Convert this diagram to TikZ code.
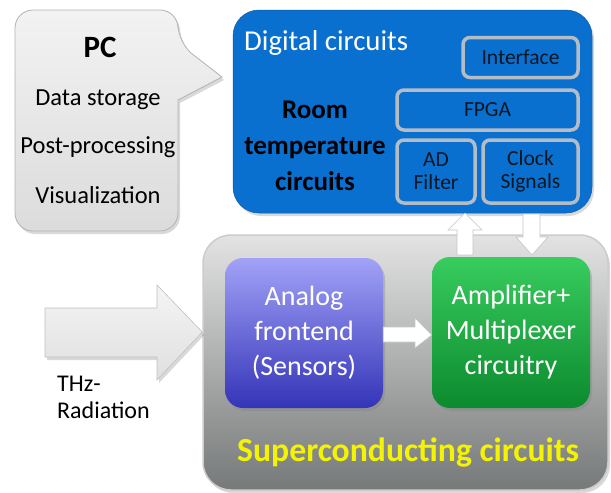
\documentclass[tikz,border=0pt]{standalone}
\usepackage{fontspec}
\setmainfont{Carlito}
\usetikzlibrary{shadows}
\definecolor{bluebox}{HTML}{0A70D0}
\definecolor{innerline}{HTML}{B4BCC6}
\definecolor{innertext}{HTML}{0C1620}
\definecolor{yel}{HTML}{F4F400}
\definecolor{anatop}{HTML}{A2A2F8}
\definecolor{anabot}{HTML}{3434B8}
\definecolor{amptop}{HTML}{38CC5E}
\definecolor{ampbot}{HTML}{0C8A2E}
\tikzset{
  txt/.style={inner sep=0pt, align=center},
  bigbox/.style={rounded corners=26pt, inner sep=0pt},
  innerbox/.style={draw=innerline, line width=3.5pt, fill=bluebox, rounded corners=7pt, inner sep=0pt, text=innertext, font=\fontsize{21.5}{23}\selectfont, align=center},
  colbox/.style={rounded corners=18pt, inner sep=0pt, text=white, align=center, font=\fontsize{28}{35}\selectfont, drop shadow={opacity=0.35, shadow xshift=2pt, shadow yshift=-3pt}},
  whitearrow/.style={fill=white, draw=gray!45, line width=0.6pt, line join=miter},
  shadowed/.style={drop shadow={opacity=0.3, shadow xshift=2pt, shadow yshift=-3pt}},
}
\begin{document}
\begin{tikzpicture}[x=1pt, y=-1pt]
\useasboundingbox (0,0) rectangle (611,493);
% PC callout
\draw[top color=gray!10, bottom color=gray!28, draw=gray!60, line width=0.8pt, shadowed, rounded corners=18pt]
  (15,10) -- (178,10) -- (178,43) [rounded corners=0pt] -- (222,77) -- (178,100) [rounded corners=18pt] -- (178,231) -- (15,231) -- cycle;
\node[txt, font=\bfseries\fontsize{31}{32}\selectfont] (pc) at (100,47) {PC};
\node[txt, font=\fontsize{24.5}{26}\selectfont] (ds) at (98,100) {Data storage};
\node[txt, font=\fontsize{24.5}{26}\selectfont] (pp) at (98,147) {Post-processing};
\node[txt, font=\fontsize{24.5}{26}\selectfont] (vis) at (98,195) {Visualization};
% Blue room temperature box
\node[bigbox, fill=bluebox, draw=bluebox!80!black, line width=0.5pt, shadowed, minimum width=359pt, minimum height=203pt] (room) at (412.5,111.5) {};
\node[txt, anchor=west, text=white, font=\fontsize{28.8}{30}\selectfont] (dig) at (244,43) {Digital circuits};
\node[txt, text=black, font=\bfseries\fontsize{27}{36}\selectfont] (rtc) at (315,146) {Room\\temperature\\circuits};
\node[innerbox, minimum width=115pt, minimum height=40pt] (iface) at (520.5,57.5) {Interface};
\node[innerbox, minimum width=181pt, minimum height=40pt] (fpga) at (487.5,110) {FPGA};
\node[innerbox, minimum width=78pt, minimum height=63pt] (ad) at (436,171.5) {AD\\Filter};
\node[innerbox, minimum width=95pt, minimum height=63pt] (clk) at (530.5,171.5) {Clock\\Signals};
% Gray superconducting box
\node[bigbox, rounded corners=28pt, top color=gray!22, bottom color=gray!95!teal!60!black!75, draw=gray!40, line width=1.5pt, shadowed, minimum width=405pt, minimum height=255pt] (sc) at (405.5,362.5) {};
\node[colbox, top color=anatop, bottom color=anabot, minimum width=158pt, minimum height=150pt] (ana) at (304,333) {Analog\\frontend\\(Sensors)};
\node[colbox, top color=amptop, bottom color=ampbot, minimum width=158pt, minimum height=151pt] (amp) at (511,332.5) {Amplifier+\\Multiplexer\\circuitry};
\node[txt, anchor=west, text=yel, font=\bfseries\fontsize{33.7}{36}\selectfont] (sct) at (237,453) {Superconducting circuits};
% THz arrow
\draw[top color=gray!8, bottom color=gray!25, draw=gray!50, line width=0.6pt, line join=miter, shadowed]
  (45,308) -- (157,308) -- (157,285) -- (sc.west |- 0,332) -- (157,380) -- (157,357) -- (45,357) -- cycle;
\node[txt, anchor=west, font=\fontsize{24}{27}\selectfont, align=left] (thz) at (57,397) {THz-\\Radiation};
% arrow analog -> amp
\draw[whitearrow] (ana.east |- 0,327) -- (415,327) -- (415,318) -- (amp.west |- 0,335) -- (415,348) -- (415,342) -- (ana.east |- 0,342) -- cycle;
% up arrow amp -> AD filter
\draw[whitearrow] (457,255) -- (457,230) -- (448,230) -- (465,213) -- (482,230) -- (473,230) -- (473,255) -- cycle;
% down arrow clock -> amp
\draw[whitearrow] (523,214) -- (523,237) -- (516,237) -- (532,255) -- (548,237) -- (540,237) -- (540,214) -- cycle;
\end{tikzpicture}
\end{document}
